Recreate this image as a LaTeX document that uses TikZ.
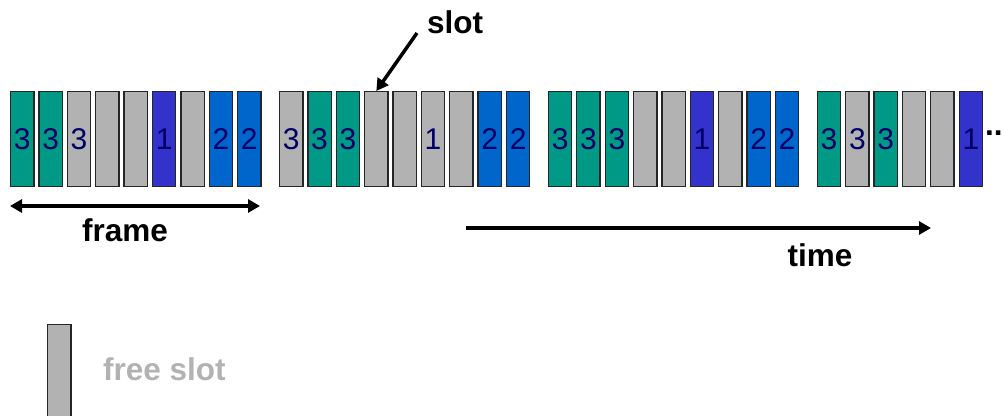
\documentclass[tikz,border=0pt]{standalone}
\usepackage{fontspec}
\setmainfont{Liberation Sans}
\usetikzlibrary{arrows.meta}
\definecolor{teal3}{HTML}{009985}
\definecolor{grayslot}{HTML}{B2B2B2}
\definecolor{purple1}{HTML}{3333CC}
\definecolor{blue2}{HTML}{0066CC}
\definecolor{digit}{HTML}{000066}
\tikzset{
  slotbox/.style={draw=black!85, line width=1.3pt, minimum width=23.3pt, minimum height=95pt, inner sep=0pt, anchor=north west, font=\fontsize{30}{30}\selectfont, text=digit},
  lbl/.style={font=\bfseries\fontsize{31.5}{32}\selectfont, inner sep=0pt},
  thickarrow/.style={line width=3.5pt, -{Triangle[length=12pt,width=13pt]}},
}
\begin{document}
\begin{tikzpicture}[x=1pt,y=-1pt]
\useasboundingbox (0,0) rectangle (1004,415);
\clip (0,0) rectangle (1004,415);
% frames
\foreach \f/\list in {0/{teal3/3,teal3/3,grayslot/3,grayslot/,grayslot/,purple1/1,grayslot/,blue2/2,blue2/2},
                      1/{grayslot/3,teal3/3,teal3/3,grayslot/,grayslot/,grayslot/1,grayslot/,blue2/2,blue2/2},
                      2/{teal3/3,teal3/3,teal3/3,grayslot/,grayslot/,purple1/1,grayslot/,blue2/2,blue2/2},
                      3/{teal3/3,grayslot/3,teal3/3,grayslot/,grayslot/,purple1/1}}{
  \foreach \c/\t [count=\i from 0] in \list {
    \node[slotbox, fill=\c] (s\f-\i) at ({10+268.9*\f+28.37*\i},91) {\t};
  }
}
\node[lbl, anchor=west] (dots) at (985,133) {...};
% slot label
\node[lbl] (slotlbl) at (455,22) {slot};
\coordinate (slotarrowstart) at (417,33);
\draw[thickarrow] (slotarrowstart) -- (s1-3.north);
% frame arrow
\coordinate (fa) at (10,206);
\coordinate (fb) at (260,206);
\draw[line width=3.5pt, {Triangle[length=12pt,width=13pt]}-{Triangle[length=12pt,width=13pt]}] (fa) -- (fb);
\node[lbl] (framelbl) at (125,230) {frame};
% time arrow
\coordinate (ta) at (466,228);
\coordinate (tb) at (931,228);
\draw[thickarrow] (ta) -- (tb);
\node[lbl] (timelbl) at (820,255) {time};
% legend
\node[slotbox, fill=grayslot, minimum height=100pt] (legend) at (47,324) {};
\node[lbl, text=grayslot, anchor=west] (freelbl) at (103,369) {free slot};
\end{tikzpicture}
\end{document}
